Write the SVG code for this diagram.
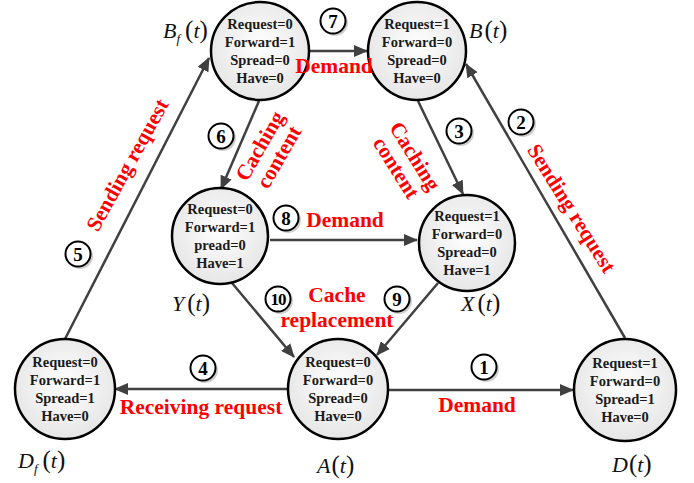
<svg xmlns="http://www.w3.org/2000/svg" width="694" height="483" viewBox="0 0 694 483">
<defs>
<radialGradient id="ng" cx="50%" cy="45%" r="55%">
<stop offset="0" stop-color="#ffffff"/>
<stop offset="1" stop-color="#e6e6e6"/>
</radialGradient>
<marker id="ah" viewBox="0 0 14 12" refX="13" refY="6" markerWidth="14" markerHeight="12" markerUnits="userSpaceOnUse" orient="auto">
<path d="M0,0 L14,6 L0,12 Z" fill="#404040"/>
</marker>
</defs>
<style>
.node{fill:url(#ng);stroke:#000;stroke-width:2.5}
.nt{font-family:"Liberation Serif","Times New Roman",serif;font-weight:bold;font-size:14.5px;fill:#1a1a1a;text-anchor:middle}
.edge{stroke:#404040;stroke-width:2.5;fill:none;marker-end:url(#ah)}
.red{font-family:"Liberation Serif","Times New Roman",serif;font-weight:bold;font-size:21.5px;fill:#ff0000;text-anchor:middle}
.m{font-family:"Liberation Serif","Times New Roman",serif;font-size:22px;fill:#111}
.it{font-style:italic}
.p{font-size:25px}
.sub{font-style:italic;font-size:13px}
.num circle.sh{fill:#cfcfcf;stroke:none}
.num circle.c{fill:#fff;stroke:#000;stroke-width:2}
.num text{font-family:"Liberation Serif","Times New Roman",serif;font-weight:bold;font-size:19px;fill:#000;text-anchor:middle}
</style>

<g id="connectors">
<line class="edge" x1="310" y1="51" x2="367" y2="51"/>
<line class="edge" x1="259" y1="101" x2="221" y2="189"/>
<line class="edge" x1="418" y1="101" x2="463" y2="194"/>
<line class="edge" x1="625" y1="338" x2="466" y2="64"/>
<line class="edge" x1="65" y1="339" x2="209" y2="58"/>
<line class="edge" x1="270" y1="240" x2="417" y2="240"/>
<line class="edge" x1="232" y1="283" x2="294" y2="357"/>
<line class="edge" x1="438" y1="283" x2="377" y2="355"/>
<line class="edge" x1="287" y1="389" x2="115" y2="389"/>
<line class="edge" x1="389" y1="390" x2="573" y2="390"/>
</g>

<g id="node-Bf">
<circle class="node" cx="260" cy="51" r="49"/>
<text class="nt" x="260" y="29">Request=0</text>
<text class="nt" x="260" y="47">Forward=1</text>
<text class="nt" x="260" y="65">Spread=0</text>
<text class="nt" x="260" y="83">Have=0</text>
<text class="m" x="163" y="38"><tspan class="it">B</tspan><tspan class="sub" dy="5">f</tspan><tspan class="p" dy="-5" dx="5">(</tspan><tspan class="it">t</tspan><tspan class="p">)</tspan></text>
</g>

<g id="node-B">
<circle class="node" cx="417" cy="51" r="49"/>
<text class="nt" x="417" y="29">Request=1</text>
<text class="nt" x="417" y="47">Forward=0</text>
<text class="nt" x="417" y="65">Spread=0</text>
<text class="nt" x="417" y="83">Have=0</text>
<text class="m" x="469" y="38"><tspan class="it">B</tspan><tspan class="p" dx="2">(</tspan><tspan class="it">t</tspan><tspan class="p">)</tspan></text>
</g>

<g id="node-Y">
<circle class="node" cx="220" cy="236" r="48"/>
<text class="nt" x="220" y="214">Request=0</text>
<text class="nt" x="220" y="232">Forward=1</text>
<text class="nt" x="220" y="250">pread=0</text>
<text class="nt" x="220" y="268">Have=1</text>
<text class="m" x="172" y="311"><tspan class="it">Y</tspan><tspan class="p" dx="3">(</tspan><tspan class="it">t</tspan><tspan class="p">)</tspan></text>
</g>

<g id="node-X">
<circle class="node" cx="467" cy="243" r="48"/>
<text class="nt" x="467" y="221">Request=1</text>
<text class="nt" x="467" y="239">Forward=0</text>
<text class="nt" x="467" y="257">Spread=0</text>
<text class="nt" x="467" y="275">Have=1</text>
<text class="m" x="461" y="311"><tspan class="it">X</tspan><tspan class="p" dx="3">(</tspan><tspan class="it">t</tspan><tspan class="p">)</tspan></text>
</g>

<g id="node-A">
<circle class="node" cx="338" cy="389" r="50"/>
<text class="nt" x="338" y="367">Request=0</text>
<text class="nt" x="338" y="385">Forward=0</text>
<text class="nt" x="338" y="403">Spread=0</text>
<text class="nt" x="338" y="421">Have=0</text>
<text class="m" x="317" y="473"><tspan class="it">A</tspan><tspan class="p" dx="1">(</tspan><tspan class="it">t</tspan><tspan class="p">)</tspan></text>
</g>

<g id="node-D">
<circle class="node" cx="625" cy="390" r="51"/>
<text class="nt" x="625" y="368">Request=1</text>
<text class="nt" x="625" y="386">Forward=0</text>
<text class="nt" x="625" y="404">Spread=1</text>
<text class="nt" x="625" y="422">Have=0</text>
<text class="m" x="612" y="472"><tspan class="it">D</tspan><tspan class="p" dx="1">(</tspan><tspan class="it">t</tspan><tspan class="p">)</tspan></text>
</g>

<g id="node-Df">
<circle class="node" cx="65" cy="389" r="50"/>
<text class="nt" x="65" y="367">Request=0</text>
<text class="nt" x="65" y="385">Forward=1</text>
<text class="nt" x="65" y="403">Spread=1</text>
<text class="nt" x="65" y="421">Have=0</text>
<text class="m" x="18" y="468"><tspan class="it">D</tspan><tspan class="sub" dy="5">f</tspan><tspan class="p" dy="-5" dx="5">(</tspan><tspan class="it">t</tspan><tspan class="p">)</tspan></text>
</g>

<g id="edge-labels">
<text class="red" x="334" y="73">Demand</text>
<text class="red" x="345" y="227">Demand</text>
<text class="red" x="477" y="412">Demand</text>
<text class="red" x="201" y="414">Receiving request</text>
<text class="red" x="337" y="302">Cache</text>
<text class="red" x="337" y="327">replacement</text>
<g transform="translate(269.5,151.5) rotate(-60)">
<text class="red" x="0" y="-4">Caching</text>
<text class="red" x="0" y="18">content</text>
</g>
<g transform="translate(405.5,162) rotate(58)">
<text class="red" x="0" y="-4">Caching</text>
<text class="red" x="0" y="18">content</text>
</g>
<text class="red" transform="translate(571.5,208.5) rotate(58)" x="0" y="7">Sending request</text>
<text class="red" transform="translate(127.5,165) rotate(-61)" x="0" y="7">Sending request</text>
</g>

<g id="numbers">
<g class="num" transform="translate(484,367)"><circle class="sh" cx="2" cy="2" r="13"/><circle class="c" r="12.5"/><text y="6.5">1</text></g>
<g class="num" transform="translate(521,122)"><circle class="sh" cx="2" cy="2" r="13"/><circle class="c" r="12.5"/><text y="6.5">2</text></g>
<g class="num" transform="translate(459,131)"><circle class="sh" cx="2" cy="2" r="13"/><circle class="c" r="12.5"/><text y="6.5">3</text></g>
<g class="num" transform="translate(203,368)"><circle class="sh" cx="2" cy="2" r="13"/><circle class="c" r="12.5"/><text y="6.5">4</text></g>
<g class="num" transform="translate(78,254)"><circle class="sh" cx="2" cy="2" r="13"/><circle class="c" r="12.5"/><text y="6.5">5</text></g>
<g class="num" transform="translate(221,136)"><circle class="sh" cx="2" cy="2" r="13"/><circle class="c" r="12.5"/><text y="6.5">6</text></g>
<g class="num" transform="translate(333,21)"><circle class="sh" cx="2" cy="2" r="13"/><circle class="c" r="12.5"/><text y="6.5">7</text></g>
<g class="num" transform="translate(286,218)"><circle class="sh" cx="2" cy="2" r="13"/><circle class="c" r="12.5"/><text y="6.5">8</text></g>
<g class="num" transform="translate(397,299)"><circle class="sh" cx="2" cy="2" r="13"/><circle class="c" r="12.5"/><text y="6.5">9</text></g>
<g class="num" transform="translate(278,299)"><circle class="sh" cx="2" cy="2" r="13"/><circle class="c" r="12.5"/><text y="6" style="font-size:17px;letter-spacing:-1px">10</text></g>
</g>
</svg>
